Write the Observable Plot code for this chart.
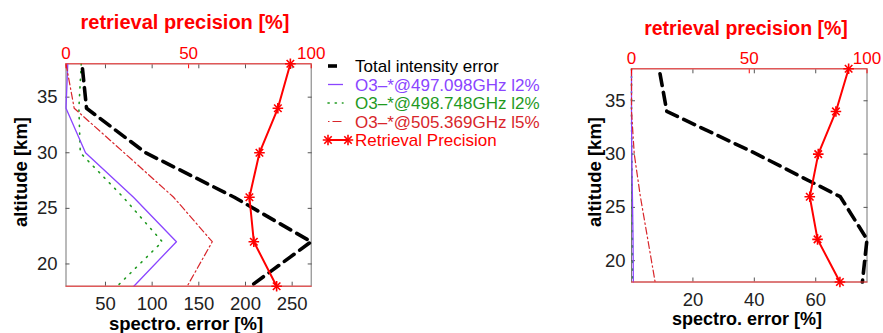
<!DOCTYPE html>
<html><head><meta charset="utf-8">
<script src="https://cdn.jsdelivr.net/npm/d3@7"></script>
<script src="https://cdn.jsdelivr.net/npm/@observablehq/plot@0.6"></script>
<style>
body{margin:0;background:#fff;}
#root{position:relative;width:883px;height:333px;overflow:hidden;background:#fff;font-family:"Liberation Sans",Arial,Helvetica,sans-serif;}
.layer{position:absolute;top:0;}
</style></head><body><div id="root"></div>
<script>
// ---- data ----
const altitudes = [38, 34, 30, 26, 22, 18];
// left panel (spectro. error [%])
const leftTotal   = [24.8, 29.7, 93, 188, 270.4, 205.4];
const leftO3_497  = [9.6, 7.7, 28.6, 80, 126, 80.4];
const leftO3_498  = [24, 21.5, 23, 69, 110.8, 62.6];
const leftO3_505  = [7.7, 16.5, 70, 123, 164.4, 137.6];
const leftPrecision = [91.5, 86.4, 78.9, 74.8, 76.6, 85.9];
// right panel
const rightTotal  = [9, 11.5, 40.8, 68, 76.7, 75.2];
const rightO3_497 = [0, 0, 0.1, 0.3, 0.5, 0.6];
const rightO3_498 = [0, 0, 0.1, 0.2, 0.3, 0.4];
const rightO3_505 = [0, 0, 0.9, 2.9, 5.3, 7.7];
const rightPrecision = [92.2, 86.8, 79.3, 75.7, 79, 88.5];
// ticks
const yTicks = [20, 25, 30, 35];
const leftXTicks = [50, 100, 150, 200, 250];
const rightXTicks = [20, 40, 60];
const precisionTicks = [0, 50, 100];
const legendLabels = ["Total intensity error", "O3\u2013*@497.098GHz l2%", "O3\u2013*@498.748GHz l2%", "O3\u2013*@505.369GHz l5%", "Retrieval Precision"];
const titleText = "retrieval precision [%]";
const xLabelText = "spectro. error [%]";
const yLabelText = "altitude [km]";

const colors = {total: "#000000", o497: "#8a45ff", o498: "#1f9a1f", o505: "#d8262b", prec: "#ff0000"};
const font = '"Liberation Sans", Arial, Helvetica, sans-serif';
const root = document.getElementById("root");

function makePanel(cfg) {
  const rows = altitudes.map((alt, i) => ({alt, total: cfg.total[i], o497: cfg.o497[i], o498: cfg.o498[i], o505: cfg.o505[i], prec: cfg.prec[i]}));
  const dims = {width: cfg.w, height: cfg.h, marginLeft: cfg.ml, marginRight: cfg.mr, marginTop: cfg.mt, marginBottom: cfg.mb};
  const spectro = Plot.plot({
    ...dims,
    style: {background: "transparent", color: "#222", fontFamily: font, overflow: "visible"},
    x: {domain: cfg.xDomain},
    y: {domain: [18, 38]},
    marks: [
      Plot.frame({stroke: "#777", strokeWidth: 1}),
      Plot.axisY(yTicks, {anchor: "left", tickSize: -4, tickPadding: cfg.yPad + 4, fontSize: 18.5, label: null, stroke: "#555"}),
      Plot.axisY(yTicks, {anchor: "right", tickSize: -4, tickFormat: () => "", label: null, stroke: "#555"}),
      Plot.axisX(cfg.xTicks, {anchor: "bottom", tickSize: -4, tickPadding: 15, fontSize: 18.5, label: null, stroke: "#555"}),
      Plot.axisX(cfg.xTicks, {anchor: "top", tickSize: -4, tickFormat: () => "", label: null, stroke: "#555"}),
      Plot.line(rows, {x: "o498", y: "alt", stroke: colors.o498, strokeWidth: 1.6, strokeDasharray: "1.2,6.5", strokeLinecap: "round"}),
      Plot.line(rows, {x: "o497", y: "alt", stroke: colors.o497, strokeWidth: 1.3}),
      Plot.line(rows, {x: "o505", y: "alt", stroke: colors.o505, strokeWidth: 1.2, strokeDasharray: "7,3,1.5,3"}),
      Plot.line(rows, {x: "total", y: "alt", stroke: colors.total, strokeWidth: 3.6, strokeDasharray: "12,7", strokeDashoffset: 14})
    ]
  });
  const precision = Plot.plot({
    ...dims,
    style: {background: "transparent", color: "#ff0000", fontFamily: font, overflow: "visible"},
    x: {domain: [0, 100]},
    y: {domain: [18, 38], axis: null},
    marks: [
      Plot.frame({anchor: "top", stroke: "#ff3a3a"}),
      Plot.frame({anchor: "bottom", stroke: "#ff3a3a"}),
      Plot.axisX(precisionTicks, {anchor: "top", tickSize: -4, tickPadding: 9, fontSize: 17, label: null}),
      Plot.line(rows, {x: "prec", y: "alt", stroke: colors.prec, strokeWidth: 2}),
      Plot.dot(rows, {x: "prec", y: "alt", symbol: "plus", r: 3.5, stroke: colors.prec, strokeWidth: 1.6}),
      Plot.dot(rows, {x: "prec", y: "alt", symbol: "times", r: 3.5, stroke: colors.prec, strokeWidth: 1.6})
    ]
  });
  for (const svg of [spectro, precision]) {
    const d = document.createElement("div");
    d.className = "layer";
    d.style.left = cfg.left + "px";
    d.appendChild(svg);
    root.appendChild(d);
  }
}

makePanel({total: leftTotal, o497: leftO3_497, o498: leftO3_498, o505: leftO3_505, prec: leftPrecision,
  xDomain: [7.7, 270.4], xTicks: leftXTicks, w: 330, h: 333, ml: 65.5, mr: 19.3, mt: 63.3, mb: 47.3, yPad: 8.5, left: 0});
makePanel({total: rightTotal, o497: rightO3_497, o498: rightO3_498, o505: rightO3_505, prec: rightPrecision,
  xDomain: [0, 76.7], xTicks: rightXTicks, w: 303, h: 333, ml: 51, mr: 16.5, mt: 68.3, mb: 51.5, yPad: 6, left: 580});

// ---- titles, axis labels and legend ----
const ov = d3.create("svg").attr("width", 883).attr("height", 333)
  .style("position", "absolute").style("left", "0px").style("top", "0px")
  .style("font-family", font).style("overflow", "visible");
function label(x, y, txt, size, fill, rotate) {
  const t = ov.append("text").attr("text-anchor", "middle").attr("font-weight", "bold")
    .attr("font-size", size).attr("fill", fill).text(txt);
  if (rotate) t.attr("transform", `translate(${x},${y}) rotate(-90)`);
  else t.attr("x", x).attr("y", y);
}
label(185, 29, titleText, 20, "#ff0000");
label(746, 35, titleText, 19.5, "#ff0000");
label(186, 330, xLabelText, 18.5, "#000");
label(747, 325, xLabelText, 18, "#000");
label(27, 172, yLabelText, 18.5, "#000", true);
label(600.5, 172, yLabelText, 18.5, "#000", true);

const legendColors = [colors.total, colors.o497, colors.o498, colors.o505, colors.prec];
const legendDash = ["9,6", null, "1.2,6", "1.5,3,9,3", null];
const legendWidth = [3.6, 1.3, 1.6, 1.2, 2];
const lg = ov.append("g");
legendLabels.forEach((txt, i) => {
  const base = 72 + i * 18.5;
  const cy = base - 6;
  const line = lg.append("line").attr("x1", 328).attr("x2", i === 4 ? 348 : 343).attr("y1", cy).attr("y2", cy)
    .attr("stroke", legendColors[i]).attr("stroke-width", legendWidth[i]);
  if (legendDash[i]) line.attr("stroke-dasharray", legendDash[i]);
  if (i === 2) line.attr("stroke-linecap", "round");
  if (i === 4) {
    for (const sx of [328, 348]) {
      for (const sym of [d3.symbolPlus, d3.symbolTimes]) {
        lg.append("path").attr("d", d3.symbol(sym, Math.PI * 12)()).attr("transform", `translate(${sx},${cy})`)
          .attr("fill", "none").attr("stroke", colors.prec).attr("stroke-width", 1.6);
      }
    }
  }
  lg.append("text").attr("x", 355).attr("y", base).attr("font-size", 17).attr("fill", legendColors[i]).text(txt);
});
root.appendChild(ov.node());
</script></body></html>
